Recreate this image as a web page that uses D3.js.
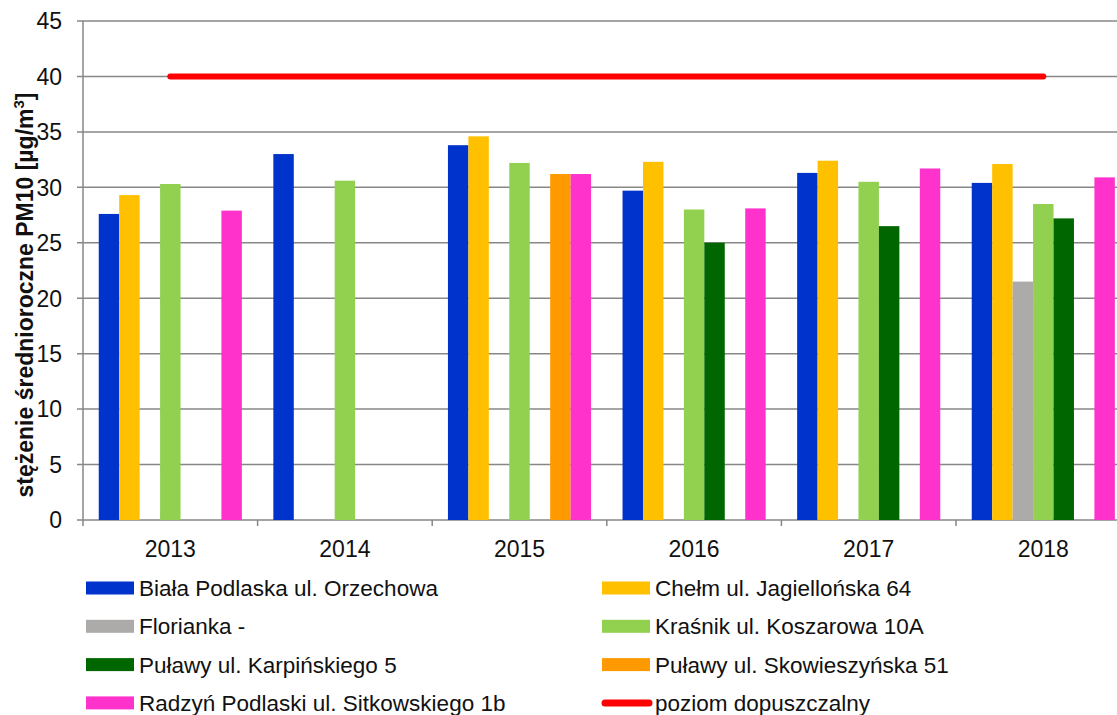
<!DOCTYPE html>
<html>
<head>
<meta charset="utf-8">
<script src="https://cdn.jsdelivr.net/npm/d3@7"></script>
<style>
  body { margin: 0; background: #fff; }
  svg { display: block; font-family: "Liberation Sans", Arial, sans-serif; }
</style>
</head>
<body>
<svg id="chart" width="1117" height="715"></svg>
<script>
// data
var years = ["2013", "2014", "2015", "2016", "2017", "2018"];
var stations = [
  "Biała Podlaska ul. Orzechowa",
  "Chełm ul. Jagiellońska 64",
  "Florianka -",
  "Kraśnik ul. Koszarowa 10A",
  "Puławy ul. Karpińskiego 5",
  "Puławy ul. Skowieszyńska 51",
  "Radzyń Podlaski ul. Sitkowskiego 1b"
];
var colors = ["#0033CC", "#FFC000", "#ADAAAA", "#92D050", "#006600", "#FF9900", "#FF33CC"];
// values per station, one per year (null = no data)
var bialaPodlaska = [27.6, 33.0, 33.8, 29.7, 31.3, 30.4];
var chelm         = [29.3, null, 34.6, 32.3, 32.4, 32.1];
var florianka     = [null, null, null, null, null, 21.5];
var krasnik       = [30.3, 30.6, 32.2, 28.0, 30.5, 28.5];
var pulawyKarp    = [null, null, null, 25.0, 26.5, 27.2];
var pulawySkow    = [null, null, 31.2, null, null, null];
var radzyn        = [27.9, null, 31.2, 28.1, 31.7, 30.9];
var limitValue = 40;
var limitLabel = "poziom dopuszczalny";
var yTicks = [0, 5, 10, 15, 20, 25, 30, 35, 40, 45];

var series = [bialaPodlaska, chelm, florianka, krasnik, pulawyKarp, pulawySkow, radzyn];

var svg = d3.select("#chart");

var margin = { left: 83, top: 21, bottom: 520 };
var plotRight = 83 + 6 * 174.6; // plot runs past the right edge, as in the original

var x = d3.scaleBand().domain(years).range([margin.left, plotRight]).paddingInner(0).paddingOuter(0);
var inner = d3.scaleBand().domain(d3.range(stations.length)).range([0, x.bandwidth()]).paddingOuter(0.77).paddingInner(0);
var y = d3.scaleLinear().domain([0, 45]).range([margin.bottom, margin.top]);

// gridlines
svg.append("g")
  .selectAll("line")
  .data(yTicks)
  .enter().append("line")
    .attr("x1", margin.left - 6)
    .attr("x2", 1117)
    .attr("y1", function(d) { return y(d); })
    .attr("y2", function(d) { return y(d); })
    .attr("stroke", "#878787")
    .attr("stroke-width", 1.5);

// y tick labels
svg.append("g")
  .selectAll("text")
  .data(yTicks)
  .enter().append("text")
    .attr("x", 62)
    .attr("y", function(d) { return y(d); })
    .attr("dy", "0.36em")
    .attr("text-anchor", "end")
    .style("font-size", "23px")
    .attr("fill", "#111")
    .text(function(d) { return d; });

// y axis line
svg.append("line")
  .attr("x1", margin.left).attr("x2", margin.left)
  .attr("y1", margin.top).attr("y2", margin.bottom + 6)
  .attr("stroke", "#878787").attr("stroke-width", 1.5);

// x ticks at band boundaries
svg.append("g")
  .selectAll("line")
  .data(years.slice(1).concat(["end"]))
  .enter().append("line")
    .attr("x1", function(d, i) { return x(years[0]) + (i + 1) * x.bandwidth(); })
    .attr("x2", function(d, i) { return x(years[0]) + (i + 1) * x.bandwidth(); })
    .attr("y1", margin.bottom)
    .attr("y2", margin.bottom + 6)
    .attr("stroke", "#878787").attr("stroke-width", 1.5);

// x labels
svg.append("g")
  .selectAll("text")
  .data(years)
  .enter().append("text")
    .attr("x", function(d) { return x(d) + x.bandwidth() / 2; })
    .attr("y", 557)
    .attr("text-anchor", "middle")
    .style("font-size", "23px")
    .attr("fill", "#111")
    .text(function(d) { return d; });

// bars
var groups = svg.append("g")
  .selectAll("g")
  .data(series)
  .enter().append("g")
    .attr("fill", function(d, i) { return colors[i]; });

groups.each(function(vals, si) {
  d3.select(this).selectAll("rect")
    .data(vals.map(function(v, yi) { return { year: years[yi], value: v }; })
              .filter(function(d) { return d.value !== null; }))
    .enter().append("rect")
      .attr("x", function(d) { return x(d.year) + inner(si); })
      .attr("width", inner.bandwidth())
      .attr("y", function(d) { return y(d.value); })
      .attr("height", function(d) { return y(0) - y(d.value); });
});

// limit line
svg.append("line")
  .attr("x1", x(years[0]) + x.bandwidth() / 2)
  .attr("x2", x(years[years.length - 1]) + x.bandwidth() / 2)
  .attr("y1", y(limitValue))
  .attr("y2", y(limitValue))
  .attr("stroke", "#FF0000")
  .attr("stroke-width", 6)
  .attr("stroke-linecap", "round");

// y axis title
svg.append("text")
  .attr("transform", "translate(33,295) rotate(-90)")
  .attr("text-anchor", "middle")
  .style("font-size", "23px")
  .style("font-weight", "bold")
  .attr("fill", "#111")
  .html("stężenie średnioroczne PM10 [µg/m<tspan dy='-9' font-size='15px'>3</tspan><tspan dy='9'>]</tspan>");

// legend
var legendItems = stations.map(function(s, i) { return { label: s, color: colors[i], line: false }; });
legendItems.push({ label: limitLabel, color: "#FF0000", line: true });

var legend = svg.append("g")
  .selectAll("g")
  .data(legendItems)
  .enter().append("g")
    .attr("transform", function(d, i) {
      var col = i % 2, row = Math.floor(i / 2);
      return "translate(" + (col === 0 ? 86 : 602) + "," + (588 + row * 38.3) + ")";
    });

legend.filter(function(d) { return !d.line; })
  .append("rect")
    .attr("x", 0).attr("y", -6.5)
    .attr("width", 48).attr("height", 13)
    .attr("fill", function(d) { return d.color; });

legend.filter(function(d) { return d.line; })
  .append("line")
    .attr("x1", 3).attr("x2", 47)
    .attr("y1", 0).attr("y2", 0)
    .attr("stroke", function(d) { return d.color; })
    .attr("stroke-width", 7)
    .attr("stroke-linecap", "round");

legend.append("text")
  .attr("x", 53)
  .attr("y", 0)
  .attr("dy", "0.36em")
  .style("font-size", "22.5px")
  .attr("fill", "#111")
  .text(function(d) { return d.label; });
</script>
</body>
</html>
